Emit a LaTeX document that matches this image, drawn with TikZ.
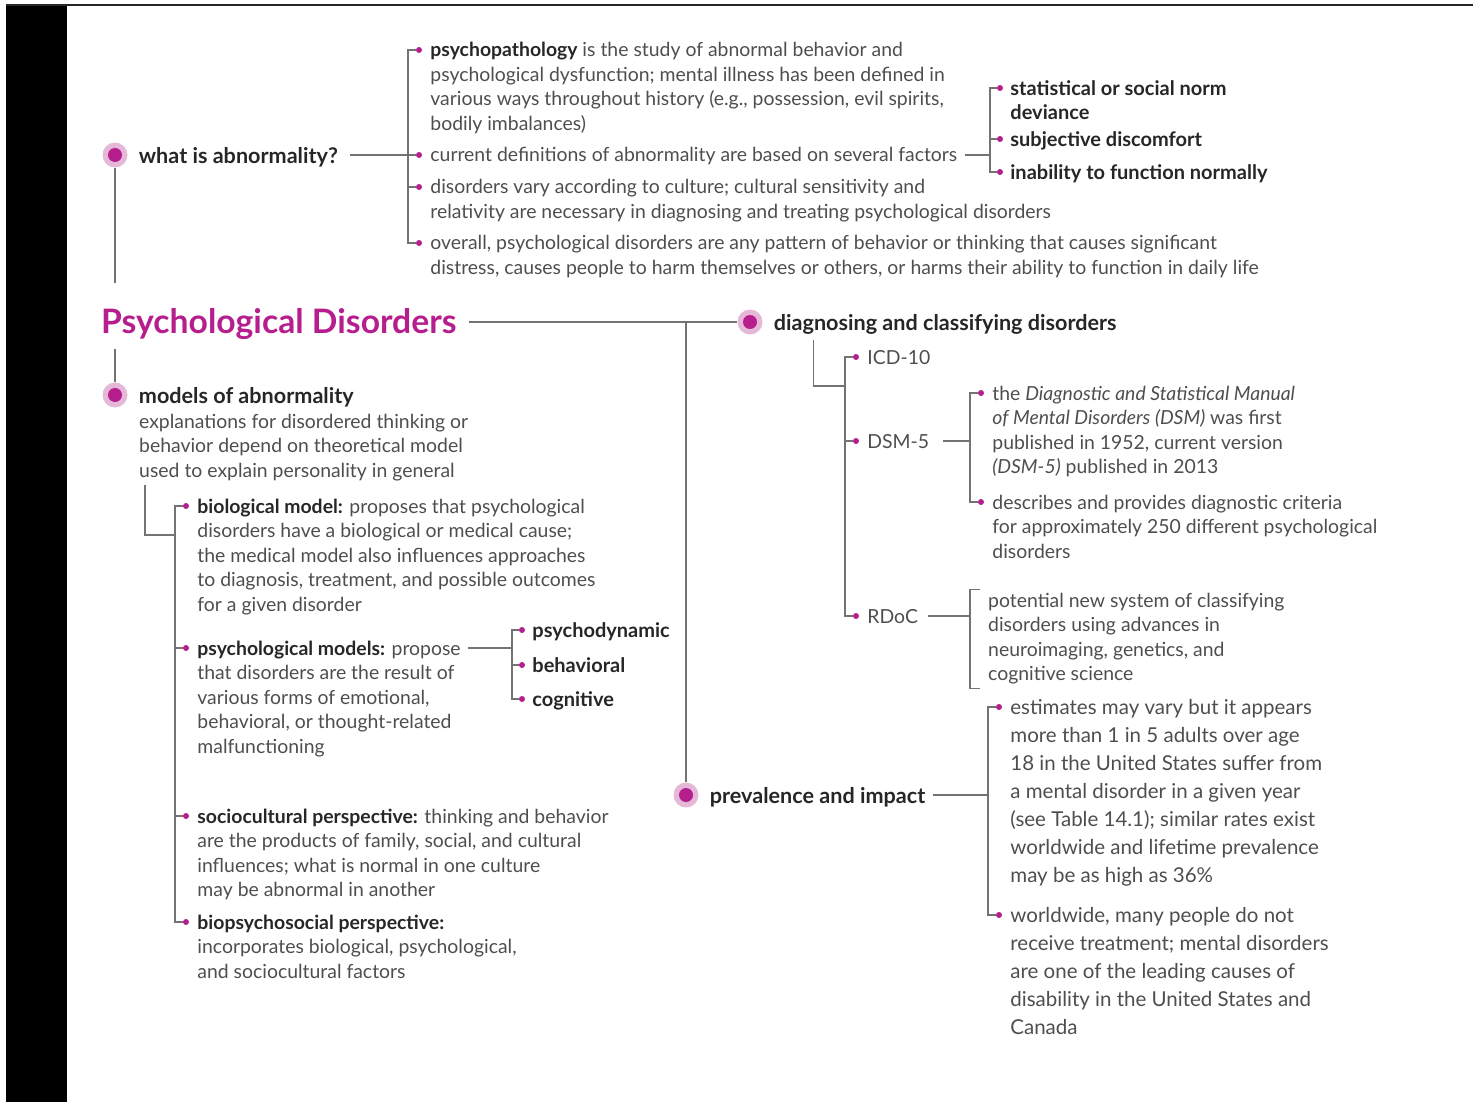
\documentclass[tikz,border=0pt]{standalone}
\usepackage{fontspec}
\setmainfont{Lato}
\usetikzlibrary{positioning}

\definecolor{mag}{RGB}{182,30,141}
\definecolor{ring}{RGB}{228,184,214}
\definecolor{linegray}{RGB}{115,115,115}
\definecolor{bodygray}{RGB}{78,78,78}
\definecolor{headgray}{RGB}{38,38,38}

\newcommand{\bodyfont}{\fontsize{19.4}{24.5}\selectfont}
\newcommand{\widefont}{\fontsize{20.5}{28}\selectfont}
\newcommand{\headfont}{\fontsize{21.6}{25}\selectfont\bfseries}
\newcommand{\keyfont}{\fontsize{20}{24}\selectfont\bfseries}
\newcommand{\tb}[1]{{\color{headgray}\bfseries #1}}
\newcommand{\rows}[1]{\begin{tabular}[t]{@{}l@{}}#1\end{tabular}}

\tikzset{
  hub/.style={circle, fill=ring, minimum size=25pt, inner sep=0pt,
    path picture={\fill[mag] (path picture bounding box.center) circle (7pt);}},
  dot/.style={circle, fill=mag, minimum size=6pt, inner sep=0pt},
  link/.style={draw=linegray, line width=1.2pt},
  txt/.style={inner sep=0pt, text=bodygray, font=\bodyfont},
  item/.style={txt, yshift=-7pt},
  head/.style={inner sep=0pt, text=headgray, font=\headfont, yshift=-8.5pt},
  key/.style={inner sep=0pt, text=headgray, font=\keyfont, yshift=-7.5pt},
}

\begin{document}
\begin{tikzpicture}[x=1pt, y=-1pt]
    \useasboundingbox (0,0) rectangle (1473,1102);
    \fill[black] (6,6) rectangle (67,1102);
    \draw[headgray, line width=2pt] (6,5) -- (1473,5);

    % main hubs
    \node[hub] (hubA) at (115,155) {};
    \node[hub] (hubM) at (115,395) {};
    \node[hub] (hubD) at (750,322) {};
    \node[hub] (hubP) at (686,795) {};
    \node[anchor=base west, inner sep=0pt, text=mag, font=\fontsize{33.7}{38}\selectfont\bfseries] (title) at (101,333) {Psychological Disorders};

    \node[head, base right=11pt of hubA] (wia) {what is abnormality?};
    \node[head, base right=11pt of hubM] (moa) {models of abnormality};
    \node[head, base right=11pt of hubD] (dcd) {diagnosing and classifying disorders};
    \node[head, base right=11pt of hubP] (pai) {prevalence and impact};

    % what is abnormality?
    \node[dot] (d11) at (419,50) {};
    \node[dot] (d12) at (419,155) {};
    \node[dot] (d13) at (419,187) {};
    \node[dot] (d14) at (419,243) {};
    \coordinate (jA) at (408,155);
    \node[item, base right=8pt of d11] (w1) {\rows{\tb{psychopathology} is the study of abnormal behavior and\\psychological dysfunction; mental illness has been defined in\\various ways throughout history (e.g., possession, evil spirits,\\bodily imbalances)}};
    \node[item, base right=8pt of d12] (w2) {current definitions of abnormality are based on several factors};
    \node[item, base right=8pt of d13] (w3) {\rows{disorders vary according to culture; cultural sensitivity and\\relativity are necessary in diagnosing and treating psychological disorders}};
    \node[item, base right=8pt of d14] (w4) {\rows{overall, psychological disorders are any pattern of behavior or thinking that causes significant\\distress, causes people to harm themselves or others, or harms their ability to function in daily life}};

    \node[dot] (dw1) at (1000,88) {};
    \node[dot] (dw2) at (1000,139) {};
    \node[dot] (dw3) at (1000,172) {};
    \coordinate (jW) at (990,155);
    \node[key, base right=7pt of dw1] (f1) {\rows{statistical or social norm\\deviance}};
    \node[key, base right=7pt of dw2] (f2) {subjective discomfort};
    \node[key, base right=7pt of dw3] (f3) {inability to function normally};

    \draw[link, shorten <=12pt] (wia.east |- jA) -- (jA);
    \draw[link] (d11.west) -| (jA |- d14) -- (d14.west);
    \draw[link] (d12.west) -- (jA);
    \draw[link] (d13.west) -- (d13 -| jA);
    \draw[link, shorten <=8pt] (w2.east |- jW) -- (jW);
    \draw[link] (dw1.west) -| (jW |- dw3) -- (dw3.west);
    \draw[link] (dw2.west) -- (dw2 -| jW);

    % spine
    \draw[link, shorten >=25pt] (hubA.south) -- (hubA |- title.north);
    \draw[link, shorten <=10pt] (hubM |- title.south) -- (hubM.north);
    \draw[link, shorten <=12pt] (title.east |- hubD) -- (hubD.west);
    \draw[link] (hubP.north) -- (hubP |- hubD);

    % models of abnormality
    \node[txt, anchor=base west] (mdesc) at (139,428) {\rows{explanations for disordered thinking or\\behavior depend on theoretical model\\used to explain personality in general}};
    \coordinate (jM) at (175,535);
    \node[dot] (db1) at (186,506) {};
    \node[dot] (db2) at (186,648) {};
    \node[dot] (db3) at (186,816) {};
    \node[dot] (db4) at (186,922) {};
    \node[item, base right=8pt of db1] (m1) {\rows{\tb{biological model:} proposes that psychological\\disorders have a biological or medical cause;\\the medical model also influences approaches\\to diagnosis, treatment, and possible outcomes\\for a given disorder}};
    \node[item, base right=8pt of db2] (m2) {\rows{\tb{psychological models:} propose\\that disorders are the result of\\various forms of emotional,\\behavioral, or thought-related\\malfunctioning}};
    \node[item, base right=8pt of db3] (m3) {\rows{\tb{sociocultural perspective:} thinking and behavior\\are the products of family, social, and cultural\\influences; what is normal in one culture\\may be abnormal in another}};
    \node[item, base right=8pt of db4] (m4) {\rows{\tb{biopsychosocial perspective:}\\incorporates biological, psychological,\\and sociocultural factors}};

    \coordinate (jQ) at (512,648);
    \node[dot] (dq1) at (522,630) {};
    \node[dot] (dq2) at (522,665) {};
    \node[dot] (dq3) at (522,699) {};
    \node[key, base right=7pt of dq1] (q1) {psychodynamic};
    \node[key, base right=7pt of dq2] (q2) {behavioral};
    \node[key, base right=7pt of dq3] (q3) {cognitive};

    \draw[link] ([xshift=6pt]mdesc.south west) |- (jM);
    \draw[link] (db1.west) -| (jM |- db4) -- (db4.west);
    \draw[link] (db2.west) -- (db2 -| jM);
    \draw[link] (db3.west) -- (db3 -| jM);
    \draw[link, shorten <=7pt] (m2.east |- jQ) -- (jQ);
    \draw[link] (dq1.west) -| (jQ |- dq3) -- (dq3.west);
    \draw[link] (dq2.west) -- (dq2 -| jQ);

    % diagnosing and classifying
    \coordinate (jD) at (845,386);
    \node[dot] (dd1) at (856,357) {};
    \node[dot] (dd2) at (856,441) {};
    \node[dot] (dd3) at (856,616) {};
    \node[item, base right=8pt of dd1] (icd) {ICD-10};
    \node[item, base right=8pt of dd2] (dsm) {DSM-5};
    \node[item, base right=8pt of dd3] (rdoc) {RDoC};

    \coordinate (jS) at (970,441);
    \node[dot] (ds1) at (981,393) {};
    \node[dot] (ds2) at (981,502) {};
    \node[item, base right=8pt of ds1] (s1) {\rows{the \textit{Diagnostic and Statistical Manual}\\\textit{of Mental Disorders (DSM)} was first\\published in 1952, current version\\\textit{(DSM-5)} published in 2013}};
    \node[item, base right=8pt of ds2] (s2) {\rows{describes and provides diagnostic criteria\\for approximately 250 different psychological\\disorders}};

    \coordinate (jR) at (970,616);
    \node[txt, anchor=base west, inner ysep=0.5pt] (rdesc) at (988,607) {\rows{potential new system of classifying\\disorders using advances in\\neuroimaging, genetics, and\\cognitive science}};

    \draw[link, shorten <=5pt] ([xshift=40pt]dcd.south west) |- (jD);
    \draw[link] (dd1.west) -| (jD |- dd3) -- (dd3.west);
    \draw[link] (dd2.west) -- (dd2 -| jD);
    \draw[link, shorten <=14pt] (dsm.east |- jS) -- (jS);
    \draw[link] (ds1.west) -| (jS |- ds2) -- (ds2.west);
    \draw[link, shorten <=10pt] (rdoc.east |- jR) -- (jR);
    \draw[link] ([xshift=-8pt]rdesc.north west) -| (jR) |- ([xshift=-8pt]rdesc.south west);

    % prevalence and impact
    \coordinate (jP) at (988,795);
    \node[dot] (dv1) at (999,707) {};
    \node[dot] (dv2) at (999,915) {};
    \node[item, font=\widefont, base right=8pt of dv1] (v1) {\rows{estimates may vary but it appears\\more than 1 in 5 adults over age\\18 in the United States suffer from\\a mental disorder in a given year\\(see Table 14.1); similar rates exist\\worldwide and lifetime prevalence\\may be as high as 36\%}};
    \node[item, font=\widefont, base right=8pt of dv2] (v2) {\rows{worldwide, many people do not\\receive treatment; mental disorders\\are one of the leading causes of\\disability in the United States and\\Canada}};

    \draw[link, shorten <=8pt] (pai.east |- jP) -- (jP);
    \draw[link] (dv1.west) -| (jP |- dv2) -- (dv2.west);
\end{tikzpicture}
\end{document}
